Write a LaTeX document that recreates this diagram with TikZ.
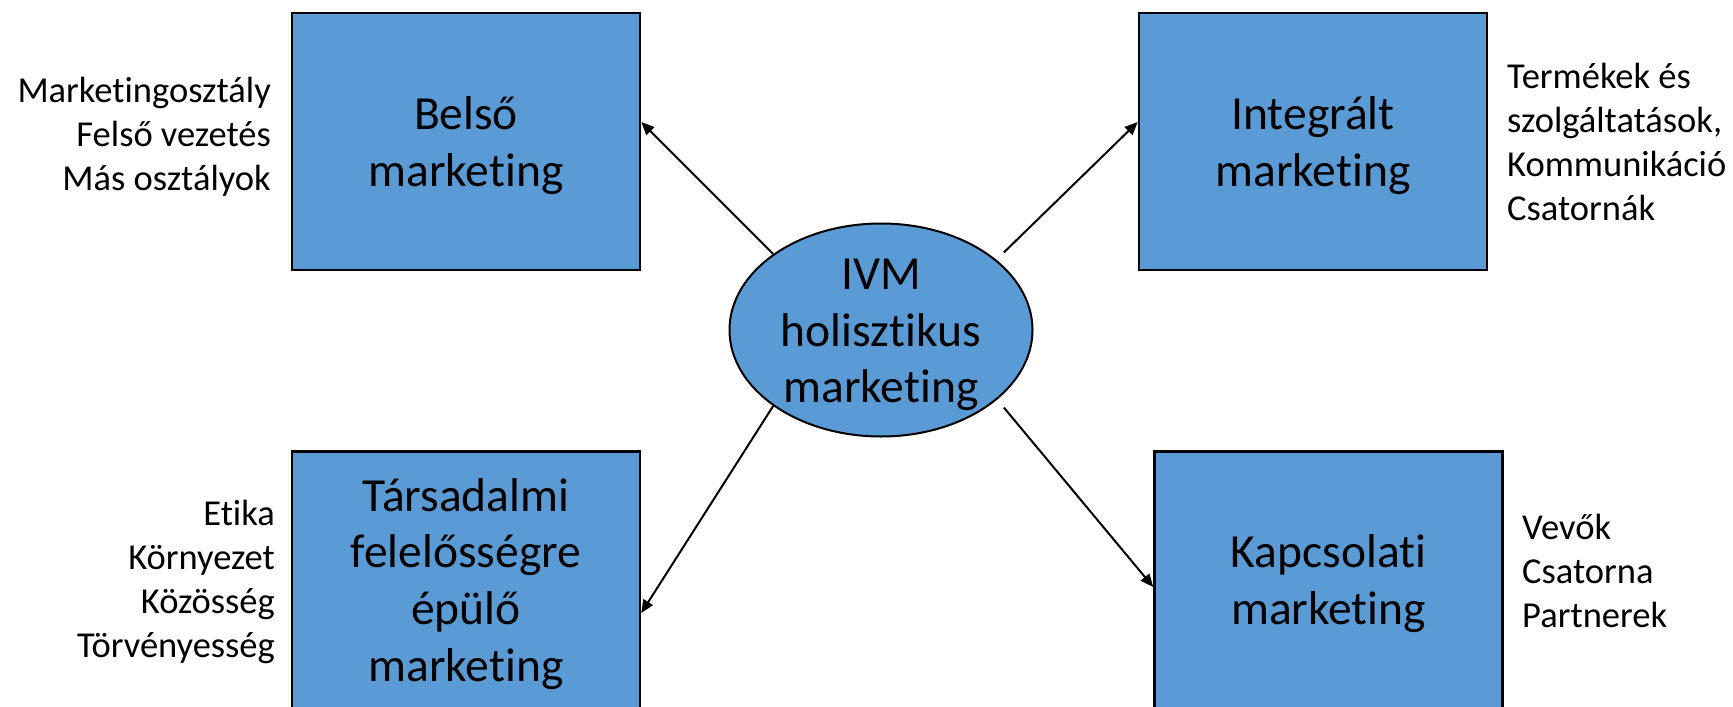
\documentclass[tikz,border=0pt]{standalone}
\usepackage{fontspec}
\setmainfont{Carlito}[Ligatures=NoCommon]
\usetikzlibrary{arrows.meta,shapes.geometric}
\definecolor{boxblue}{HTML}{5B9BD5}
\newcommand\TS{\rule{0pt}{0.952em}}
\newcommand\BS{\rule[-0.269em]{0pt}{0pt}}
\newcommand\ST{\rule{0pt}{1em}}
\begin{document}
\begin{tikzpicture}[x=1pt,y=-1pt,
  box/.style={draw=black, line width=2.5pt, fill=boxblue, minimum width=348pt,
    minimum height=257pt, inner sep=0pt, align=center,
    font=\fontsize{47.5}{56.7}\selectfont},
  ell/.style={ellipse, draw=black, line width=2pt, fill=boxblue,
    minimum width=303pt, minimum height=213pt, inner sep=0pt},
  bigtxt/.style={inner sep=0pt, align=center, font=\fontsize{47.5}{56.7}\selectfont},
  sidetxt/.style={inner sep=0pt, font=\fontsize{36.5}{44}\selectfont},
  arr/.style={-{Triangle[length=13pt,width=11pt]}, line width=2pt, draw=black}]
\useasboundingbox (0,0) rectangle (1733,707);

\node[box] (belso) at (466,141.5) {\TS Belső\\marketing\BS};
\node[box] (integ) at (1313,141.5) {\TS Integrált\\marketing\BS};
\node[box] (tars) at (466,580) {\TS Társadalmi\\felelősségre\\épülő\\marketing\BS};
\node[box] (kapcs) at (1328.5,580) {\TS Kapcsolati\\marketing\BS};

\node[ell] (ivm) at (881,330) {};
\node[bigtxt] (ivmtext) at (ivm.center) {\TS IVM\\holisztikus\\marketing\BS};

\node[sidetxt, align=right, anchor=north east] (lt) at (271,66)
  {\ST Marketingosztály\\Felső vezetés\\Más osztályok};
\node[sidetxt, align=right, anchor=north east] (lb) at (275,489)
  {\ST Etika\\Környezet\\Közösség\\Törvényesség};
\node[sidetxt, align=left, anchor=north west] (rt) at (1507,52)
  {\ST Termékek és\\szolgáltatások,\\Kommunikáció\\Csatornák};
\node[sidetxt, align=left, anchor=north west] (rb) at (1522,503)
  {\ST Vevők\\Csatorna\\Partnerek};

\draw[arr] (ivm.north west) -- ([yshift=19.5pt]belso.east);
\draw[arr] ([xshift=15pt,yshift=1.5pt]ivm.north east) -- ([yshift=19.5pt]integ.west);
\draw[arr] (ivm.south west) -- ([yshift=-33pt]tars.east);
\draw[arr] ([xshift=15pt,yshift=-1.5pt]ivm.south east) -- ([yshift=-7pt]kapcs.west);
\end{tikzpicture}
\end{document}
